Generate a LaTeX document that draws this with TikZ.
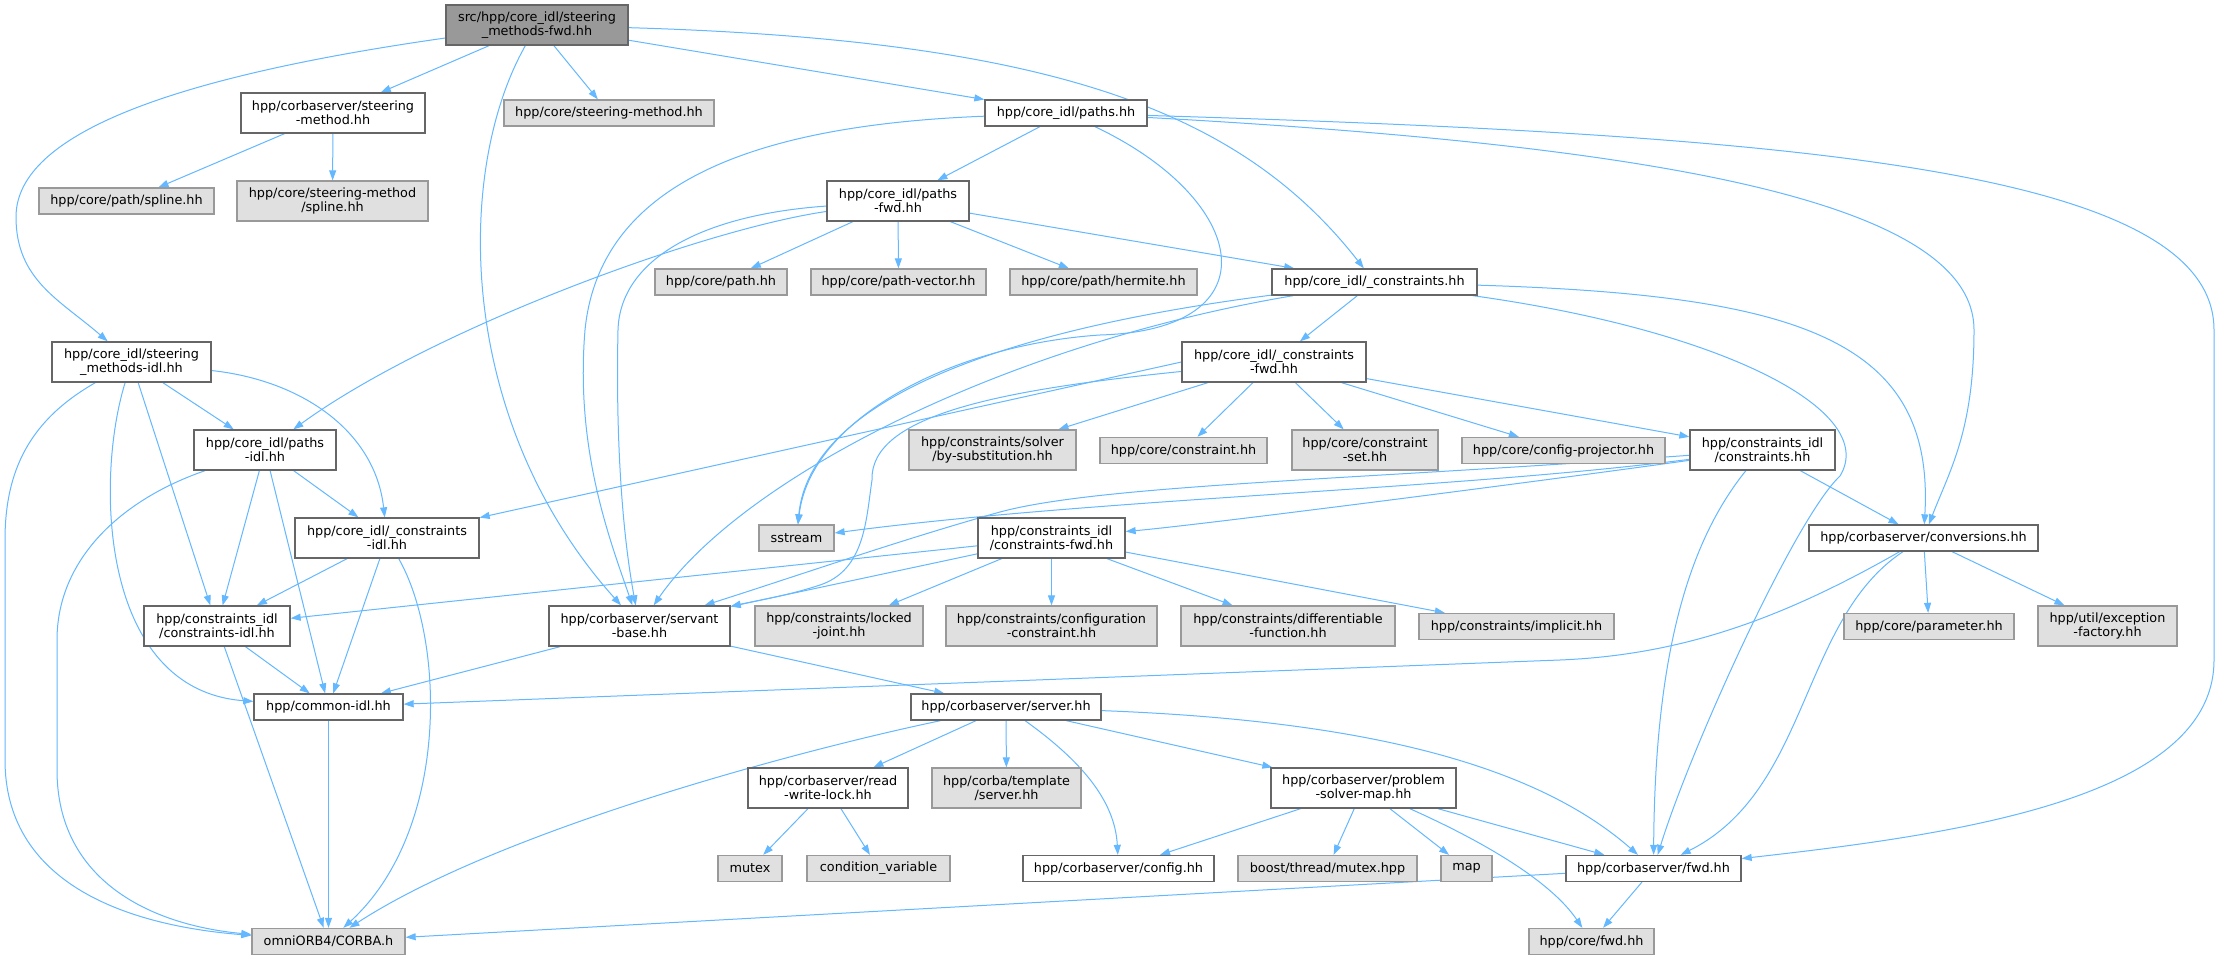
\documentclass[tikz,border=0pt]{standalone}
\usepackage{fontspec}
\setmainfont{DejaVu Sans}
\usetikzlibrary{arrows.meta}
\pgfdeclarelayer{background}
\pgfsetlayers{background,main}
\definecolor{edgeBlue}{HTML}{63B8FF}
\definecolor{borderDark}{HTML}{666666}
\definecolor{borderLight}{HTML}{999999}
\definecolor{fillLight}{HTML}{E0E0E0}
\definecolor{fillCurrent}{HTML}{999999}

\begin{document}
\begin{tikzpicture}
[lineDecorate/.style={draw=edgeBlue,line width=1pt,-{Triangle[length=10pt,width=7pt]}},%
  nodeBase/.style={shape=rectangle,line width=1.3pt,align=center,inner sep=1pt,
    font=\fontsize{12.8}{14}\selectfont},
  nodeWhite/.style={nodeBase,draw=borderDark,fill=white},
  nodeGray/.style={nodeBase,draw=borderLight,fill=fillLight},
  nodeCurrent/.style={nodeBase,draw=borderDark,fill=fillCurrent},
  x=1pt,y=-1pt]
\useasboundingbox (0,0) rectangle (2220,960);
%% nodes or files
\foreach \nodename/\x/\y/\w/\h/\kind/\txt in {
  top/537/25/182/40/nodeCurrent/{src/hpp/core\_idl/steering\\\_methods-fwd.hh},
  smcorba/333/113/184/40/nodeWhite/{hpp/corbaserver/steering\\-method.hh},
  coresm/609/113/210/26/nodeGray/{hpp/core/steering-method.hh},
  spline/126.5/201/175/26/nodeGray/{hpp/core/path/spline.hh},
  smspline/332.5/201/191/40/nodeGray/{hpp/core/steering-method\\/spline.hh},
  smidl/131.5/362/159/40/nodeWhite/{hpp/core\_idl/steering\\\_methods-idl.hh},
  pathsidl/265/450/142/40/nodeWhite/{hpp/core\_idl/paths\\-idl.hh},
  corepath/721/282/132/26/nodeGray/{hpp/core/path.hh},
  paths/1066/113/162/26/nodeWhite/{hpp/core\_idl/paths.hh},
  pathsfwd/898/201/142/40/nodeWhite/{hpp/core\_idl/paths\\-fwd.hh},
  pathvector/898.5/282/175/26/nodeGray/{hpp/core/path-vector.hh},
  hermite/1103.5/282/187/26/nodeGray/{hpp/core/path/hermite.hh},
  constr/1374.5/282/205/26/nodeWhite/{hpp/core\_idl/\_constraints.hh},
  constrfwd/1274/362/184/40/nodeWhite/{hpp/core\_idl/\_constraints\\-fwd.hh},
  bysubst/992.5/450/167/40/nodeGray/{hpp/constraints/solver\\/by-substitution.hh},
  constraint/1183.5/450.5/167/26/nodeGray/{hpp/core/constraint.hh},
  constrset/1365/450/146/40/nodeGray/{hpp/core/constraint\\-set.hh},
  projector/1563.5/450.5/203/26/nodeGray/{hpp/core/config-projector.hh},
  cidlconstr/1762.5/450/145/40/nodeWhite/{hpp/constraints\_idl\\/constraints.hh},
  constridl/387/538/184/40/nodeWhite/{hpp/core\_idl/\_constraints\\-idl.hh},
  cidl/217/626/146/40/nodeWhite/{hpp/constraints\_idl\\/constraints-idl.hh},
  servant/639.5/626/181/40/nodeWhite/{hpp/corbaserver/servant\\-base.hh},
  common/328.5/707/149/26/nodeWhite/{hpp/common-idl.hh},
  corba/328.5/941.5/153/26/nodeGray/{omniORB4/CORBA.h},
  sstream/796.5/538/75/26/nodeGray/{sstream},
  cfwd/1051.5/538/147/40/nodeWhite/{hpp/constraints\_idl\\/constraints-fwd.hh},
  locked/839/626/168/40/nodeGray/{hpp/constraints/locked\\-joint.hh},
  configc/1051.5/626/211/40/nodeGray/{hpp/constraints/configuration\\-constraint.hh},
  diff/1288/626/214/40/nodeGray/{hpp/constraints/differentiable\\-function.hh},
  implicit/1516.5/626.5/195/26/nodeGray/{hpp/constraints/implicit.hh},
  conversions/1923.5/538/229/26/nodeWhite/{hpp/corbaserver/conversions.hh},
  parameter/1929/626.5/170/26/nodeGray/{hpp/core/parameter.hh},
  exception/2107.5/626/139/40/nodeGray/{hpp/util/exception\\-factory.hh},
  server/1006/707/190/26/nodeWhite/{hpp/corbaserver/server.hh},
  rwlock/828/788/160/40/nodeWhite/{hpp/corbaserver/read\\-write-lock.hh},
  template/1006.5/788/149/40/nodeGray/{hpp/corba/template\\/server.hh},
  psmap/1363.5/788/185/40/nodeWhite/{hpp/corbaserver/problem\\-solver-map.hh},
  mutex/750/868.5/64/26/nodeGray/{mutex},
  condvar/878.5/868.5/143/26/nodeGray/{condition\_variable},
  config/1118.5/868.5/191/26/nodeWhite/{hpp/corbaserver/config.hh},
  boostmutex/1327.5/868.5/179/26/nodeGray/{boost/thread/mutex.hpp},
  stdmap/1466.5/868.5/51/26/nodeGray/{map},
  fwd/1653.5/868.5/175/26/nodeWhite/{hpp/corbaserver/fwd.hh},
  corefwd/1591.5/941.5/125/26/nodeGray/{hpp/core/fwd.hh}}
{
  \node[\kind,minimum width=\w pt,minimum height=\h pt] (\nodename) at (\x,\y) {\txt};
}
\begin{pgfonlayer}{background}
\path[fill=white] (0,0) rectangle (2220,960);
%% straight includes
\path
\foreach \startnode/\endnode in {
  top/smcorba, top/coresm, top/paths, smcorba/spline, smcorba/smspline,
  paths/pathsfwd, pathsfwd/corepath, pathsfwd/pathvector, pathsfwd/hermite,
  pathsfwd/constr, constr/constrfwd, constrfwd/bysubst, constrfwd/constraint,
  constrfwd/constrset, constrfwd/projector, constrfwd/cidlconstr,
  constrfwd.west/constridl, smidl/pathsidl, smidl/cidl, pathsidl/constridl,
  pathsidl/cidl, pathsidl/common, constridl/cidl, constridl/common,
  cidl/common, cidl/corba, common/corba, servant/common, servant/server,
  cfwd/cidl, cfwd/servant, cfwd/locked, cfwd/configc, cfwd/diff,
  cfwd/implicit, cidlconstr/conversions, conversions/parameter,
  conversions/exception, server/rwlock, server/template, server/psmap,
  rwlock/mutex, rwlock/condvar, psmap/config, psmap/boostmutex,
  psmap/stdmap, psmap/fwd, fwd/corefwd, fwd/corba}
{
  (\startnode) edge[lineDecorate] (\endnode)
};
%% curved includes
\draw[lineDecorate] (top) .. controls (150,80) and (16,140) .. (16,217)
  .. controls (16,280) and (60,300) .. (smidl);
\draw[lineDecorate] (top) .. controls (455,170) and (455,420) .. (servant);
\draw[lineDecorate] (top) .. controls (1050,40) and (1240,110) .. (constr);
\draw[lineDecorate] (paths) .. controls (760,125) and (600,180) .. (585,330)
  .. controls (575,450) and (610,540) .. (servant);
\draw[lineDecorate] (paths) .. controls (1250,200) and (1275,330) .. (1100,335)
  .. controls (950,345) and (810,420) .. (sstream);
\draw[lineDecorate] (paths) .. controls (1650,145) and (1974,200) .. (1974,330)
  .. controls (1974,430) and (1950,470) .. (conversions);
\draw[lineDecorate] (paths) .. controls (1800,135) and (2214,170) .. (2214,330)
  -- (2214,660) .. controls (2214,800) and (1950,835) .. (fwd);
\draw[lineDecorate] (pathsfwd) .. controls (700,215) and (620,260) .. (618,330)
  .. controls (616,420) and (620,520) .. (servant);
\draw[lineDecorate] (pathsfwd) .. controls (700,230) and (430,330) .. (pathsidl);
\draw[lineDecorate] (constr) .. controls (1000,330) and (810,400) .. (sstream);
\draw[lineDecorate] (constr) .. controls (1000,345) and (740,480) .. (servant);
\draw[lineDecorate] (constr) .. controls (1800,295) and (1935,340) .. (conversions);
\draw[lineDecorate] (constr) .. controls (1720,330) and (1880,410) .. (1840,476)
  .. controls (1795,518) and (1690,750) .. (fwd);
\draw[lineDecorate] (constrfwd) .. controls (1000,390) and (870,415) .. (872,480)
  .. controls (866,520) and (865,570) .. (820,585)
  .. controls (790,595) and (760,600) .. (servant);
\draw[lineDecorate] (cidlconstr) .. controls (1690,540) and (1655,650) .. (fwd);
\draw[lineDecorate] (cidlconstr) .. controls (1450,490) and (1100,498) .. (sstream);
\draw[lineDecorate] (cidlconstr) .. controls (1550,480) and (1200,525) .. (cfwd);
\draw[lineDecorate] (cidlconstr) .. controls (1350,480) and (1100,485) .. (1000,512)
  .. controls (900,540) and (800,575) .. (servant);
\draw[lineDecorate] (smidl) .. controls (300,380) and (375,430) .. (constridl);
\draw[lineDecorate] (smidl) .. controls (95,480) and (100,690) .. (common);
\draw[lineDecorate] (smidl) .. controls (30,420) and (5,470) .. (5,540)
  -- (5,760) .. controls (5,880) and (120,925) .. (corba);
\draw[lineDecorate] (pathsidl) .. controls (120,500) and (57,560) .. (57,640)
  -- (57,770) .. controls (57,880) and (150,925) .. (corba);
\draw[lineDecorate] (constridl) .. controls (445,640) and (450,830) .. (corba);
\draw[lineDecorate] (server) .. controls (1080,760) and (1115,800) .. (config);
\draw[lineDecorate] (server) .. controls (800,750) and (500,830) .. (corba);
\draw[lineDecorate] (server) .. controls (1350,720) and (1530,760) .. (fwd);
\draw[lineDecorate] (psmap) .. controls (1480,840) and (1550,880) .. (corefwd);
\draw[lineDecorate] (conversions) .. controls (1800,620) and (1810,790) .. (fwd);
\draw[lineDecorate] (conversions) .. controls (1780,620) and (1680,655) .. (1560,660)
  -- (common);
\end{pgfonlayer}
\end{tikzpicture}
\end{document}
